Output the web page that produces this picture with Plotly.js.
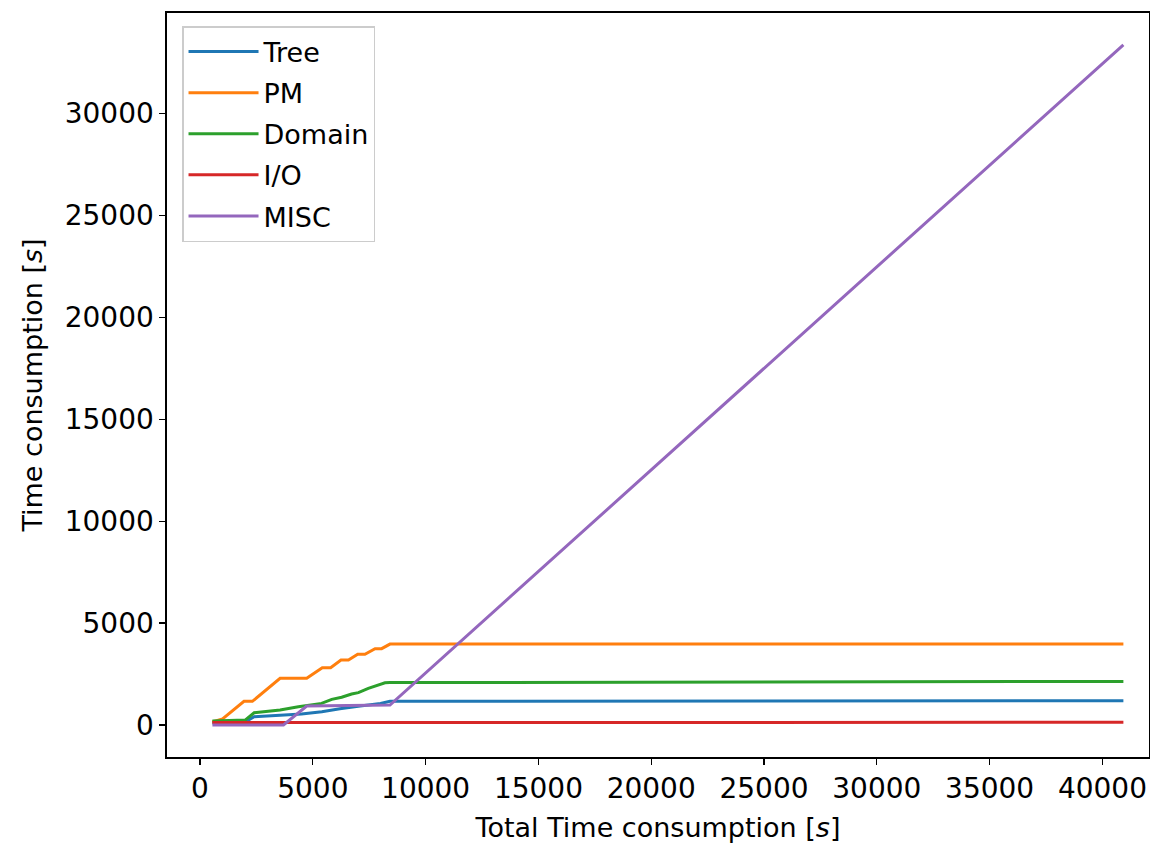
<!DOCTYPE html>
<html>
<head>
<meta charset="utf-8">
<script src="https://cdn.plot.ly/plotly-3.0.1.min.js"></script>
<style>html,body{margin:0;padding:0;background:#fff;}</style>
</head>
<body>
<div id="chart" style="width:1150px;height:844px;"></div>
<script>
const seriesNames = ["Tree", "PM", "Domain", "I/O", "MISC"];
const seriesColors = ["#1f77b4", "#ff7f0e", "#2ca02c", "#d62728", "#9467bd"];

const treeX = [550, 2000, 2400, 3550, 4500, 5400, 6200, 7100, 8000, 8420, 40930];
const treeY = [100, 150, 410, 470, 540, 650, 800, 930, 1060, 1160, 1190];

const pmX = [550, 1000, 1950, 2320, 3550, 4730, 5420, 5790, 6250, 6580, 6990, 7310, 7760, 8050, 8420, 40930];
const pmY = [150, 300, 1160, 1160, 2290, 2290, 2810, 2810, 3190, 3190, 3470, 3470, 3745, 3745, 3970, 3970];

const domainX = [550, 2000, 2400, 3550, 4360, 5390, 5840, 6280, 6720, 7020, 7460, 7900, 8200, 8420, 40930];
const domainY = [200, 240, 600, 740, 900, 1060, 1260, 1360, 1520, 1590, 1800, 1960, 2070, 2080, 2140];

const ioX = [550, 40930];
const ioY = [120, 130];

const miscX = [550, 3700, 4730, 8420, 40930];
const miscY = [0, 0, 930, 980, 33370];

const xTickVals = [0, 5000, 10000, 15000, 20000, 25000, 30000, 35000, 40000];
const yTickVals = [0, 5000, 10000, 15000, 20000, 25000, 30000];

const xs = [treeX, pmX, domainX, ioX, miscX];
const ys = [treeY, pmY, domainY, ioY, miscY];

const traces = seriesNames.map((name, i) => ({
  type: "scatter",
  mode: "lines",
  name: name,
  x: xs[i],
  y: ys[i],
  legendgroup: "g" + i,
  line: {color: seriesColors[i], width: 3}
}));

const tickFont = {family: "DejaVu Sans, sans-serif", size: 28, color: "#000"};
const titleFont = {family: "DejaVu Sans, sans-serif", size: 27, color: "#000"};

const layout = {
  width: 1150,
  height: 844,
  margin: {l: 167, r: 1, t: 13, b: 87, pad: 0},
  paper_bgcolor: "#fff",
  plot_bgcolor: "#fff",
  font: tickFont,
  showlegend: true,
  legend: {
    x: 0.0153, y: 0.9825, xanchor: "left", yanchor: "top",
    bgcolor: "#fff", bordercolor: "#cccccc", borderwidth: 1.5,
    font: {family: "DejaVu Sans, sans-serif", size: 27, color: "#000"},
    traceorder: "grouped", tracegroupgap: 3,
    itemwidth: 70
  },
  xaxis: {
    range: [-1463, 42065],
    tickvals: xTickVals,
    ticktext: xTickVals.map(String),
    showgrid: false, zeroline: false,
    showline: true, mirror: true, linecolor: "#000", linewidth: 1.6,
    ticks: "outside", ticklen: 6, tickwidth: 1.3, tickcolor: "#000",
    tickfont: tickFont,
    title: {text: "Total Time consumption [<i>s</i>]", font: titleFont, standoff: 14}
  },
  yaxis: {
    range: [-1570, 34937],
    tickvals: yTickVals,
    ticktext: yTickVals.map(String),
    showgrid: false, zeroline: false,
    showline: true, mirror: true, linecolor: "#000", linewidth: 1.6,
    ticks: "outside", ticklen: 6, tickwidth: 1.3, tickcolor: "#000",
    tickfont: tickFont,
    title: {text: "Time consumption [<i>s</i>]", font: titleFont, standoff: 14}
  }
};

Plotly.newPlot("chart", traces, layout, {displayModeBar: false, staticPlot: true});
</script>
</body>
</html>
